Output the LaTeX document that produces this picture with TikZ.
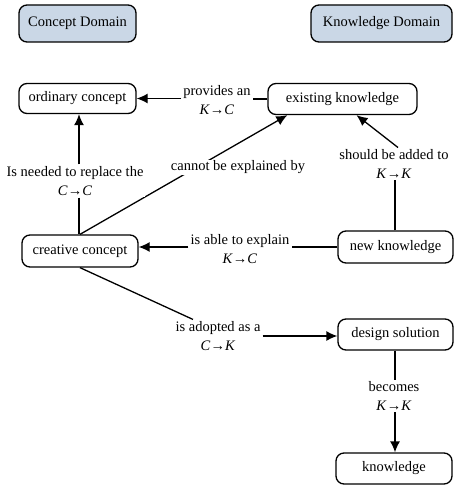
\documentclass[tikz,border=0pt]{standalone}
\usepackage{fontspec}
\setmainfont{Liberation Serif}
\usetikzlibrary{arrows.meta,calc}
\definecolor{domfill}{RGB}{202,215,230}
\begin{document}
\begin{tikzpicture}[x=1pt,y=-1pt,
  box/.style={draw, line width=1.3pt, rounded corners=8pt, minimum height=31pt, inner sep=2pt, align=center, font=\fontsize{14.5}{17}\selectfont},
  dom/.style={box, fill=domfill, minimum height=37pt},
  lbl/.style={fill=white, inner sep=2pt, align=center, font=\fontsize{14.5}{18.5}\selectfont},
  con/.style={line width=1.3pt},
  arr/.style={con, -{Latex[length=11pt,width=10pt]}}]
\useasboundingbox (0,0) rectangle (466,489);
% domain headers
\node[dom, minimum width=117pt] (cd) at (77.5,23.5) {Concept Domain};
\node[dom, minimum width=141pt] (kd) at (381.5,23.5) {Knowledge Domain};
% concepts
\node[box, minimum width=117pt, minimum height=30pt] (ordinary) at (77.5,98.5) {ordinary concept};
\node[box, minimum width=149pt] (existing) at (342.5,99) {existing knowledge};
\node[box, minimum width=116pt, minimum height=32pt] (creative) at (80,251) {creative concept};
\node[box, minimum width=115pt, minimum height=32pt] (newk) at (395.5,247) {new knowledge};
\node[box, minimum width=115pt] (design) at (395.5,334.5) {design solution};
\node[box, minimum width=116pt] (knowledge) at (394,468.5) {knowledge};
% straight edge behind its label
\draw[arr] (creative.north) -- ($(existing.south west)+(20,0)$);
% labels
\node[lbl] (L1) at (217,100) {provides an\\\textit{K}→\textit{C}};
\node[lbl] (L2) at (75,181) {Is needed to replace the\\\textit{C}→\textit{C}};
\node[lbl, inner sep=1pt] (L3) at (238,167.5) {cannot be explained by};
\node[lbl] (L4) at (394,164) {should be added to\\\textit{K}→\textit{K}};
\node[lbl] (L5) at (240,249) {is able to explain\\\textit{K}→\textit{C}};
\node[lbl] (L6) at (218,336) {is adopted as a\\\textit{C}→\textit{K}};
\node[lbl] (L7) at (394,396) {becomes\\\textit{K}→\textit{K}};
% connectors
\draw[con] (existing.west) -- (L1.east |- existing.west);
\draw[arr] (L1.west |- ordinary.east) -- (ordinary.east);
\draw[con] (L2.south -| 79,0) -- (creative.north -| 79,0);
\draw[arr] (L2.north -| 79,0) -- (ordinary.south -| 79,0);
\draw[con] (newk.north -| 395,0) -- (L4.south -| 395,0);
\draw[arr] ($(L4.north)+(4,0)$) -- ($(existing.south)+(14,0)$);
\draw[con] (newk.west) -- (L5.east |- newk.west);
\draw[arr] (L5.west |- newk.west) -- (creative.east |- newk.west);
\draw[con] (creative.south) -- ($(L6.north)+(-25,0)$);
\draw[arr] (L6.east) -- (design.west |- L6.east);
\draw[con] (design.south -| 395,0) -- (L7.north -| 395,0);
\draw[arr] (L7.south -| 395,0) -- (knowledge.north -| 395,0);
\end{tikzpicture}
\end{document}
